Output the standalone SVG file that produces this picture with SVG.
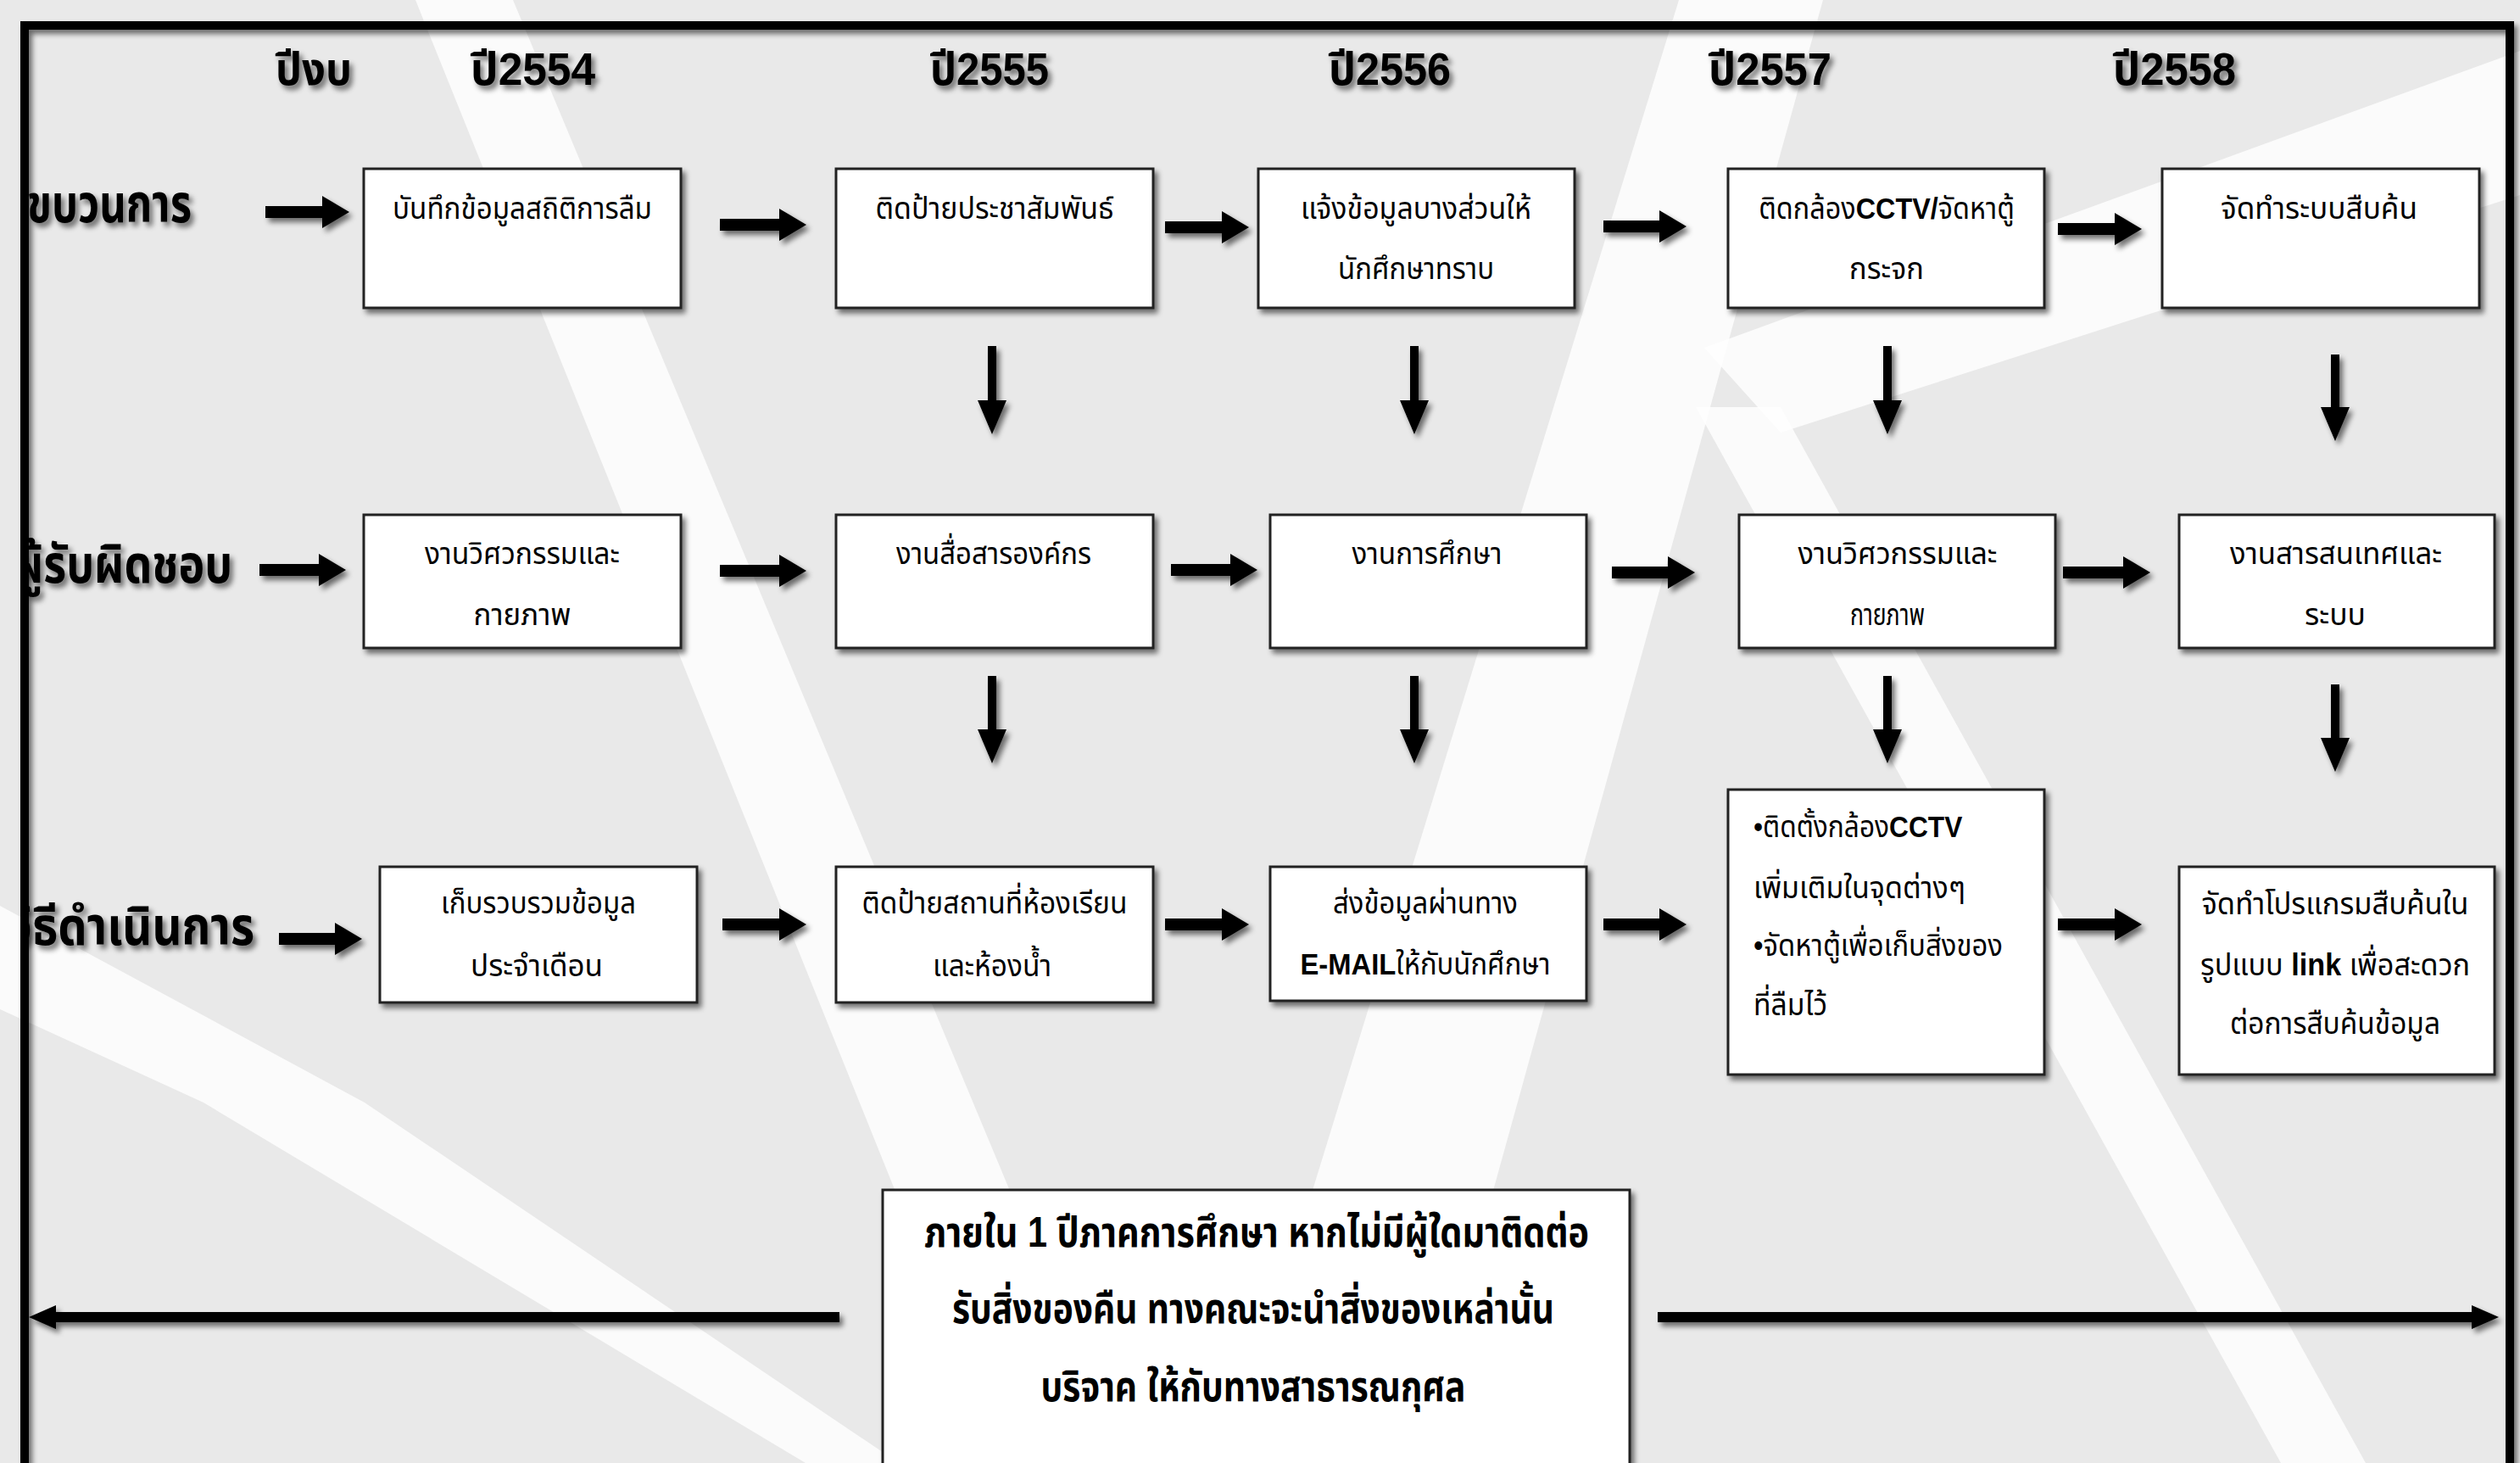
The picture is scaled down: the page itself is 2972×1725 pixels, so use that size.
<svg xmlns="http://www.w3.org/2000/svg" width="2972" height="1725" viewBox="0 0 2972 1725">
<defs>
  <style>
    .t { font-family: "Liberation Sans", "Noto Sans Thai", "Noto Sans", "DejaVu Sans", sans-serif; fill: #000; }
    .box { fill: #ffffff; stroke: #222; stroke-width: 3; }
    .bt { font-size: 36px; text-anchor: middle; }
    .bl { font-size: 36px; text-anchor: start; }
    .hd { font-size: 54px; font-weight: bold; }
    .rl { font-size: 62px; font-weight: bold; text-anchor: end; }
    .nt { font-size: 50px; font-weight: bold; text-anchor: middle; }
    .b { font-weight: bold; }
    .ha { stroke: #000; stroke-width: 14; fill: none; }
    .va { stroke: #000; stroke-width: 10; fill: none; }
    .la { stroke: #000; stroke-width: 12; fill: none; }
    .stripe { fill: #ffffff; opacity: 0.8; }
  </style>
  <filter id="sh" x="-20%" y="-20%" width="140%" height="140%">
    <feGaussianBlur in="SourceAlpha" stdDeviation="3"/>
    <feOffset dx="4" dy="5" result="o"/>
    <feComponentTransfer><feFuncA type="linear" slope="0.55"/></feComponentTransfer>
    <feMerge><feMergeNode/><feMergeNode in="SourceGraphic"/></feMerge>
  </filter>
  <marker id="hh" markerUnits="userSpaceOnUse" markerWidth="32" markerHeight="38" viewBox="0 0 32 38" refX="0" refY="19" orient="auto">
    <path d="M0,0 L32,19 L0,38 Z" fill="#000"/>
  </marker>
  <marker id="vh" markerUnits="userSpaceOnUse" markerWidth="40" markerHeight="34" viewBox="0 0 40 34" refX="0" refY="17" orient="auto">
    <path d="M0,0 L40,17 L0,34 Z" fill="#000"/>
  </marker>
  <marker id="lh" markerUnits="userSpaceOnUse" markerWidth="32" markerHeight="28" viewBox="0 0 32 28" refX="0" refY="14" orient="auto">
    <path d="M0,0 L32,14 L0,28 Z" fill="#000"/>
  </marker>
  <clipPath id="inside"><rect x="31" y="0" width="2941" height="1725"/></clipPath>
</defs>

<!-- background -->
<g id="background">
  <rect x="0" y="0" width="2972" height="1725" fill="#e9e9e9"/>
  <polygon class="stripe" points="490,0 605,0 1325,1725 1185,1725"/>
  <polygon class="stripe" points="0,1068 430,1300 1060,1725 950,1725 240,1300 0,1190"/>
  <polygon class="stripe" points="1980,0 2150,0 1672,1725 1449,1725"/>
  <polygon class="stripe" points="2000,480 2100,480 2790,1725 2690,1725"/>
  <polygon class="stripe" points="2010,410 2972,60 2972,230 2100,510"/>
</g>

<!-- frame -->
<g id="frame" filter="url(#sh)">
  <rect x="29" y="30" width="2931" height="1760" fill="none" stroke="#000" stroke-width="10"/>
</g>

<!-- headers -->
<g id="headers" class="t hd" filter="url(#sh)">
  <text x="325" y="100" textLength="90" lengthAdjust="spacingAndGlyphs">ปีงบ</text>
  <text x="555" y="100" textLength="147" lengthAdjust="spacingAndGlyphs">ปี2554</text>
  <text x="1097" y="100" textLength="140" lengthAdjust="spacingAndGlyphs">ปี2555</text>
  <text x="1567" y="100" textLength="144" lengthAdjust="spacingAndGlyphs">ปี2556</text>
  <text x="2015" y="100" textLength="145" lengthAdjust="spacingAndGlyphs">ปี2557</text>
  <text x="2492" y="100" textLength="145" lengthAdjust="spacingAndGlyphs">ปี2558</text>
</g>

<!-- row labels -->
<g id="row-labels" class="t rl" filter="url(#sh)" clip-path="url(#inside)">
  <text x="226" y="262" textLength="194" lengthAdjust="spacingAndGlyphs">ขบวนการ</text>
  <text x="274" y="687" textLength="258" lengthAdjust="spacingAndGlyphs">ผู้รับผิดชอบ</text>
  <text x="300" y="1114" textLength="290" lengthAdjust="spacingAndGlyphs">วิธีดำเนินการ</text>
</g>

<!-- connectors -->
<g id="connectors" filter="url(#sh)">
  <!-- row 1 -->
  <line class="ha" x1="313" y1="250" x2="380" y2="250" marker-end="url(#hh)"/>
  <line class="ha" x1="849" y1="265" x2="919" y2="265" marker-end="url(#hh)"/>
  <line class="ha" x1="1374" y1="268" x2="1441" y2="268" marker-end="url(#hh)"/>
  <line class="ha" x1="1891" y1="267" x2="1957" y2="267" marker-end="url(#hh)"/>
  <line class="ha" x1="2427" y1="270" x2="2494" y2="270" marker-end="url(#hh)"/>
  <!-- row 2 -->
  <line class="ha" x1="306" y1="672" x2="376" y2="672" marker-end="url(#hh)"/>
  <line class="ha" x1="849" y1="673" x2="919" y2="673" marker-end="url(#hh)"/>
  <line class="ha" x1="1381" y1="672" x2="1451" y2="672" marker-end="url(#hh)"/>
  <line class="ha" x1="1901" y1="675" x2="1967" y2="675" marker-end="url(#hh)"/>
  <line class="ha" x1="2433" y1="675" x2="2504" y2="675" marker-end="url(#hh)"/>
  <!-- row 3 -->
  <line class="ha" x1="329" y1="1107" x2="395" y2="1107" marker-end="url(#hh)"/>
  <line class="ha" x1="852" y1="1090" x2="919" y2="1090" marker-end="url(#hh)"/>
  <line class="ha" x1="1374" y1="1090" x2="1441" y2="1090" marker-end="url(#hh)"/>
  <line class="ha" x1="1891" y1="1090" x2="1957" y2="1090" marker-end="url(#hh)"/>
  <line class="ha" x1="2427" y1="1090" x2="2494" y2="1090" marker-end="url(#hh)"/>
  <!-- vertical row1 -> row2 -->
  <line class="va" x1="1170" y1="408" x2="1170" y2="472" marker-end="url(#vh)"/>
  <line class="va" x1="1668" y1="408" x2="1668" y2="472" marker-end="url(#vh)"/>
  <line class="va" x1="2226" y1="408" x2="2226" y2="472" marker-end="url(#vh)"/>
  <line class="va" x1="2754" y1="418" x2="2754" y2="480" marker-end="url(#vh)"/>
  <!-- vertical row2 -> row3 -->
  <line class="va" x1="1170" y1="797" x2="1170" y2="860" marker-end="url(#vh)"/>
  <line class="va" x1="1668" y1="797" x2="1668" y2="860" marker-end="url(#vh)"/>
  <line class="va" x1="2226" y1="797" x2="2226" y2="860" marker-end="url(#vh)"/>
  <line class="va" x1="2754" y1="807" x2="2754" y2="870" marker-end="url(#vh)"/>
  <!-- bottom long arrows -->
  <line class="la" x1="990" y1="1553" x2="66" y2="1553" marker-end="url(#lh)"/>
  <line class="la" x1="1955" y1="1553" x2="2915" y2="1553" marker-end="url(#lh)"/>
</g>

<!-- row 1 nodes -->
<g id="n-r1c1" filter="url(#sh)"><rect class="box" x="429" y="199" width="374" height="164"/></g>
<g id="n-r1c1-text" class="t bt"><text x="616" y="258" textLength="306" lengthAdjust="spacingAndGlyphs">บันทึกข้อมูลสถิติการลืม</text></g>

<g id="n-r1c2" filter="url(#sh)"><rect class="box" x="986" y="199" width="374" height="164"/></g>
<g id="n-r1c2-text" class="t bt"><text x="1173" y="258" textLength="281" lengthAdjust="spacingAndGlyphs">ติดป้ายประชาสัมพันธ์</text></g>

<g id="n-r1c3" filter="url(#sh)"><rect class="box" x="1484" y="199" width="373" height="164"/></g>
<g id="n-r1c3-text" class="t bt">
  <text x="1670" y="258" textLength="272" lengthAdjust="spacingAndGlyphs">แจ้งข้อมูลบางส่วนให้</text>
  <text x="1670" y="329" textLength="184" lengthAdjust="spacingAndGlyphs">นักศึกษาทราบ</text>
</g>

<g id="n-r1c4" filter="url(#sh)"><rect class="box" x="2038" y="199" width="373" height="164"/></g>
<g id="n-r1c4-text" class="t bt">
  <text transform="translate(2225,258) scale(0.9,1)">ติดกล้อง<tspan class="b">CCTV/</tspan>จัดหาตู้</text>
  <text x="2225" y="329" textLength="88" lengthAdjust="spacingAndGlyphs">กระจก</text>
</g>

<g id="n-r1c5" filter="url(#sh)"><rect class="box" x="2550" y="199" width="374" height="164"/></g>
<g id="n-r1c5-text" class="t bt"><text x="2735" y="258" textLength="232" lengthAdjust="spacingAndGlyphs">จัดทำระบบสืบค้น</text></g>

<!-- row 2 nodes -->
<g id="n-r2c1" filter="url(#sh)"><rect class="box" x="429" y="607" width="374" height="157"/></g>
<g id="n-r2c1-text" class="t bt">
  <text x="616" y="665" textLength="230" lengthAdjust="spacingAndGlyphs">งานวิศวกรรมและ</text>
  <text x="616" y="737" textLength="115" lengthAdjust="spacingAndGlyphs">กายภาพ</text>
</g>

<g id="n-r2c2" filter="url(#sh)"><rect class="box" x="986" y="607" width="374" height="157"/></g>
<g id="n-r2c2-text" class="t bt"><text x="1172" y="665" textLength="230" lengthAdjust="spacingAndGlyphs">งานสื่อสารองค์กร</text></g>

<g id="n-r2c3" filter="url(#sh)"><rect class="box" x="1498" y="607" width="373" height="157"/></g>
<g id="n-r2c3-text" class="t bt"><text x="1683" y="665" textLength="177" lengthAdjust="spacingAndGlyphs">งานการศึกษา</text></g>

<g id="n-r2c4" filter="url(#sh)"><rect class="box" x="2051" y="607" width="373" height="157"/></g>
<g id="n-r2c4-text" class="t bt">
  <text x="2238" y="665" textLength="235" lengthAdjust="spacingAndGlyphs">งานวิศวกรรมและ</text>
  <text x="2226" y="737" textLength="88" lengthAdjust="spacingAndGlyphs">กายภาพ</text>
</g>

<g id="n-r2c5" filter="url(#sh)"><rect class="box" x="2570" y="607" width="372" height="157"/></g>
<g id="n-r2c5-text" class="t bt">
  <text x="2755" y="665" textLength="250" lengthAdjust="spacingAndGlyphs">งานสารสนเทศและ</text>
  <text x="2754" y="737" textLength="72" lengthAdjust="spacingAndGlyphs">ระบบ</text>
</g>

<!-- row 3 nodes -->
<g id="n-r3c1" filter="url(#sh)"><rect class="box" x="448" y="1022" width="374" height="160"/></g>
<g id="n-r3c1-text" class="t bt">
  <text x="635" y="1077" textLength="230" lengthAdjust="spacingAndGlyphs">เก็บรวบรวมข้อมูล</text>
  <text x="633" y="1151" textLength="156" lengthAdjust="spacingAndGlyphs">ประจำเดือน</text>
</g>

<g id="n-r3c2" filter="url(#sh)"><rect class="box" x="986" y="1022" width="374" height="160"/></g>
<g id="n-r3c2-text" class="t bt">
  <text x="1173" y="1077" textLength="313" lengthAdjust="spacingAndGlyphs">ติดป้ายสถานที่ห้องเรียน</text>
  <text x="1170" y="1151" textLength="140" lengthAdjust="spacingAndGlyphs">และห้องน้ำ</text>
</g>

<g id="n-r3c3" filter="url(#sh)"><rect class="box" x="1498" y="1022" width="373" height="158"/></g>
<g id="n-r3c3-text" class="t bt">
  <text x="1681" y="1077" textLength="218" lengthAdjust="spacingAndGlyphs">ส่งข้อมูลผ่านทาง</text>
  <text transform="translate(1681,1149) scale(0.91,1)"><tspan class="b">E-MAIL</tspan>ให้กับนักศึกษา</text>
</g>

<g id="n-r3c4" filter="url(#sh)"><rect class="box" x="2038" y="931" width="373" height="336"/></g>
<g id="n-r3c4-text" class="t bl">
  <text transform="translate(2068,987) scale(0.88,1)">•ติดตั้งกล้อง<tspan class="b">CCTV</tspan></text>
  <text x="2068" y="1059" textLength="250" lengthAdjust="spacingAndGlyphs">เพิ่มเติมในจุดต่างๆ</text>
  <text x="2068" y="1127" textLength="294" lengthAdjust="spacingAndGlyphs">•จัดหาตู้เพื่อเก็บสิ่งของ</text>
  <text x="2068" y="1197" textLength="87" lengthAdjust="spacingAndGlyphs">ที่ลืมไว้</text>
</g>

<g id="n-r3c5" filter="url(#sh)"><rect class="box" x="2570" y="1022" width="372" height="245"/></g>
<g id="n-r3c5-text" class="t bt">
  <text x="2754" y="1078" textLength="315" lengthAdjust="spacingAndGlyphs">จัดทำโปรแกรมสืบค้นใน</text>
  <text transform="translate(2754,1150) scale(0.95,1)">รูปแบบ <tspan class="b">link</tspan> เพื่อสะดวก</text>
  <text x="2754" y="1219" textLength="248" lengthAdjust="spacingAndGlyphs">ต่อการสืบค้นข้อมูล</text>
</g>

<!-- bottom note -->
<g id="n-note" filter="url(#sh)"><rect class="box" x="1041" y="1403" width="881" height="340"/></g>
<g id="n-note-text" class="t nt">
  <text x="1482" y="1470" textLength="784" lengthAdjust="spacingAndGlyphs">ภายใน 1 ปีภาคการศึกษา หากไม่มีผู้ใดมาติดต่อ</text>
  <text x="1478" y="1560" textLength="710" lengthAdjust="spacingAndGlyphs">รับสิ่งของคืน ทางคณะจะนำสิ่งของเหล่านั้น</text>
  <text x="1478" y="1652" textLength="501" lengthAdjust="spacingAndGlyphs">บริจาค ให้กับทางสาธารณกุศล</text>
</g>
</svg>
